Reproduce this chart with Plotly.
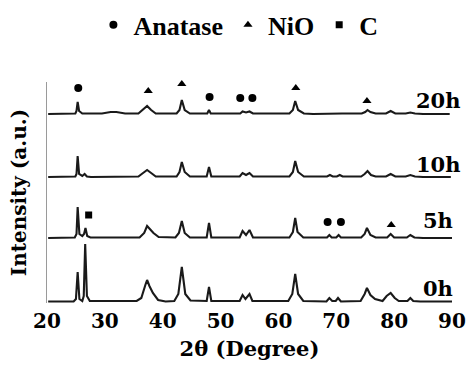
import plotly.graph_objects as go

# ---------------- data ----------------
# 2-theta (degree) / relative intensity (a.u.) for each milling time
two_theta_0h = [20.2, 24.6, 25.0, 25.3, 25.6, 26.1, 26.35, 26.6, 26.9, 27.4, 35.5, 36.3, 37.0, 37.3,
                37.7, 38.3, 39.2, 40.5, 42.0, 42.7, 43.3, 43.9, 44.8, 47.6, 48.0, 48.4, 53.3, 53.8,
                54.3, 55.0, 55.5, 61.7, 62.4, 62.9, 63.4, 64.3, 68.3, 68.8, 69.3, 69.9, 70.3, 70.8,
                74.2, 74.9, 75.3, 75.9, 76.7, 77.3, 78.0, 78.7, 79.4, 80.1, 80.8, 82.3, 82.8, 83.3,
                84.5, 90.0]
intensity_0h = [0.5, 0.5, 3, 30, 3, 1, 6, 58, 6, 1, 1, 4, 17, 22,
                16, 9, 2, 0.5, 1, 8, 35, 8, 1.5, 1, 15, 1, 1, 7,
                3, 8, 1, 1, 8, 28, 8, 1, 0.5, 4, 1, 1, 4, 0.5,
                1, 8, 14, 7, 3, 2, 1, 6, 9, 4, 1, 1, 4, 1,
                0.5, 0.5]

two_theta_5h = [20.2, 24.8, 25.1, 25.3, 25.6, 26.1, 26.4, 26.65, 26.95, 27.5, 36.0, 36.8, 37.3, 37.8,
                38.4, 39.3, 42.2, 42.8, 43.3, 43.8, 44.7, 47.6, 48.0, 48.4, 53.3, 53.8, 54.4, 55.0,
                55.6, 61.9, 62.5, 62.9, 63.3, 64.3, 68.4, 68.8, 69.2, 70.0, 70.4, 70.8, 74.3, 74.9,
                75.3, 75.9, 76.8, 78.8, 79.4, 80.0, 82.2, 82.8, 83.5, 85.0, 90.0]
intensity_5h = [0, 0.5, 4, 31, 4, 2, 4, 10, 2, 0.5, 0.5, 5, 12, 9,
                5, 1, 0.5, 5, 17, 5, 0.5, 0.5, 15, 0.5, 0.5, 7, 3, 8,
                0.5, 0.5, 6, 20, 6, 0.5, 0.5, 3, 0.5, 0.5, 3, 0.5, 0.5, 4,
                10, 3, 0.5, 0.5, 4, 0.5, 0.5, 3, 0.5, 0, 0]

two_theta_10h = [20.2, 24.9, 25.1, 25.3, 25.55, 26.1, 26.5, 26.9, 27.6, 35.8, 36.6, 37.3, 38.0, 38.8,
                 42.4, 42.9, 43.3, 43.8, 44.7, 47.6, 48.0, 48.4, 53.3, 53.8, 54.4, 55.0, 55.6, 61.9,
                 62.5, 62.9, 63.4, 64.4, 68.4, 68.9, 69.4, 70.1, 70.6, 71.1, 74.3, 74.9, 75.4, 76.0,
                 76.8, 78.6, 79.4, 80.2, 82.0, 82.8, 83.6, 85.0, 89.8]
intensity_10h = [0, 0.5, 3, 21, 3, 1, 3, 0.5, 0, 0.5, 4, 7, 4, 0.5,
                 0.5, 5, 15, 5, 0.5, 0.5, 10, 0.5, 0.5, 4, 2, 4, 0.5, 0.5,
                 5, 16, 5, 0.5, 0.5, 2, 0.5, 0.5, 2, 0.5, 0.5, 3, 6, 2,
                 0.5, 0.5, 3, 0.5, 0.5, 2, 0.5, 0, 0]

two_theta_20h = [20.2, 24.9, 25.1, 25.3, 25.55, 26.1, 29.5, 31.0, 32.0, 33.5, 35.8, 36.6, 37.3, 38.0,
                 38.8, 42.4, 42.9, 43.3, 43.8, 44.7, 47.7, 48.0, 48.3, 53.4, 53.8, 54.4, 55.0, 55.6,
                 61.9, 62.5, 62.9, 63.4, 64.4, 66.0, 69.0, 71.0, 74.4, 75.0, 75.4, 75.9, 76.8, 78.6,
                 79.4, 80.2, 82.0, 82.8, 83.6, 85.0, 89.6]
intensity_20h = [0, 0.5, 3, 12, 3, 0.5, 0.5, 2, 2, 0.5, 0.5, 4, 8, 4,
                 0.5, 0.5, 4, 14, 4, 0.5, 0.5, 4, 0.5, 0.5, 2.5, 1.5, 2.5, 0.5,
                 0.5, 4, 13, 4, 0.5, 0, 0.5, 0.5, 0.5, 2, 4, 2, 0.5, 0.5,
                 3, 0.5, 0.5, 1.5, 0.5, 0, 0]

sample_labels = ["0h", "5h", "10h", "20h"]
stack_offsets = [0, 64, 125, 188]

# phase markers (2-theta, stacked intensity)
anatase_x = [25.4, 48.1, 53.4, 55.5, 68.5, 70.8]
anatase_y = [214, 205, 204, 204, 80, 80]
nio_x = [37.5, 43.3, 63.0, 75.3, 79.5]
nio_y = [211, 218, 214, 201, 77]
carbon_x = [27.2]
carbon_y = [87]

x_ticks = [20, 30, 40, 50, 60, 70, 80, 90]

# ---------------- figure ----------------
FONT = "DejaVu Serif"
LEG_FONT = "Liberation Serif"
LINE = "#1a1a1a"

fig = go.Figure()
patterns = [(two_theta_0h, intensity_0h), (two_theta_5h, intensity_5h),
            (two_theta_10h, intensity_10h), (two_theta_20h, intensity_20h)]
for (tt, inten), off, name in zip(patterns, stack_offsets, sample_labels):
    fig.add_trace(go.Scatter(x=tt, y=[v + off for v in inten], mode="lines",
                             line=dict(color=LINE, width=2.1), name=name,
                             showlegend=False, hoverinfo="skip"))

fig.add_trace(go.Scatter(x=anatase_x, y=anatase_y, mode="markers", name="Anatase", cliponaxis=False,
                         marker=dict(symbol="circle", size=8, color="black")))
fig.add_trace(go.Scatter(x=nio_x, y=nio_y, mode="markers", name="NiO", cliponaxis=False,
                         marker=dict(symbol="triangle-up", size=8, color="black")))
fig.add_trace(go.Scatter(x=carbon_x, y=carbon_y, mode="markers", name="C", cliponaxis=False,
                         marker=dict(symbol="square", size=7, color="black")))

# sample labels at the right end of each pattern (text centre heights in axis units)
label_centres = {"0h": (14, 3), "5h": (82, 3), "10h": (138, 11), "20h": (202, 11)}
for lab in sample_labels:
    cy, shift = label_centres[lab]
    fig.add_annotation(x=1, y=cy, xref="paper", yref="y", text=lab, showarrow=False,
                       xanchor="right", yanchor="middle", xshift=shift,
                       font=dict(family=FONT, size=21, color="black", weight="bold"))

fig.update_layout(
    width=467, height=365,
    margin=dict(l=47, r=15, t=82, b=62, autoexpand=False),
    paper_bgcolor="white", plot_bgcolor="white",
    font=dict(family=FONT, size=21, color="black", weight="bold"),
    legend=dict(orientation="h", xref="container", yref="container",
                x=0.2, xanchor="left", y=0.932, yanchor="middle",
                font=dict(family=LEG_FONT, size=26, color="black", weight="bold"),
                itemsizing="trace", bgcolor="rgba(0,0,0,0)", tracegroupgap=0),
    xaxis=dict(range=[20, 90], tickvals=x_ticks, showgrid=False, zeroline=False,
               showline=False, ticks="", ticklabelstandoff=4, ticklabeloverflow="allow",
               tickfont=dict(family=FONT, size=20, color="black", weight="bold"),
               title=dict(text="2θ (Degree)", standoff=9,
                          font=dict(family=FONT, size=21, color="black", weight="bold"))),
    yaxis=dict(range=[-1, 220], showgrid=False, zeroline=False, showticklabels=False,
               ticks="", showline=True, linecolor="#9a9a9a", linewidth=1,
               title=dict(text="Intensity (a.u.)", standoff=14,
                          font=dict(family=FONT, size=20, color="black", weight="bold"))),
)

fig.write_html("out.html")
